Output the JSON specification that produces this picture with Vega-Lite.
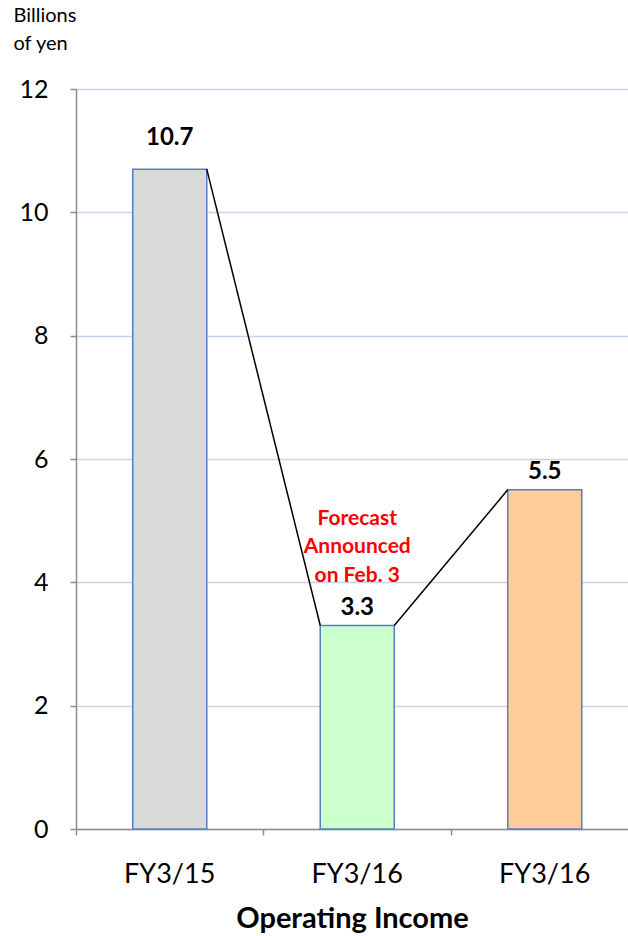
{
  "$schema": "https://vega.github.io/schema/vega-lite/v6.json",
  "width": 552,
  "height": 740,
  "autosize": {"type": "none"},
  "padding": {"left": 76, "top": 89, "right": 0, "bottom": 107},
  "background": "white",
  "config": {"font": "Lato", "view": {"stroke": null}},
  "datasets": {
    "bars": [
      {"key": "A", "label": "FY3/15", "value": 10.7},
      {"key": "B", "label": "FY3/16", "value": 3.3},
      {"key": "C", "label": "FY3/16", "value": 5.5}
    ],
    "links": [
      {"from": "A", "to": "B", "v1": 10.7, "v2": 3.3},
      {"from": "B", "to": "C", "v1": 3.3, "v2": 5.5}
    ],
    "notes": [
      {"key": "B", "value": 3.3, "note": "Forecast\nAnnounced\non Feb. 3"}
    ]
  },
  "layer": [
    {
      "data": {"name": "bars"},
      "mark": {"type": "bar", "width": {"band": 0.395}, "stroke": "#4f81bd", "strokeWidth": 1.5},
      "encoding": {
        "x": {
          "field": "key", "type": "nominal", "sort": null,
          "scale": {"range": [0, 562.5], "paddingInner": 0, "paddingOuter": 0},
          "axis": {
            "title": "Operating Income",
            "labelExpr": "datum.value == 'A' ? 'FY3/15' : 'FY3/16'",
            "labelAngle": 0, "labelFont": "Lato", "labelFontSize": 27, "labelColor": "#000000",
            "labelBaseline": "alphabetic", "labelPadding": 47,
            "tickSize": 6, "tickColor": "#8c8c8c", "tickWidth": 1.5,
            "domainColor": "#8c8c8c", "domainWidth": 1.5,
            "bandPosition": 0, "grid": false,
            "titleFont": "Lato", "titleFontSize": 29, "titleFontWeight": "bold", "titleColor": "#000000",
            "titleX": 276, "titleY": 98, "titleBaseline": "alphabetic", "titleAlign": "center"
          }
        },
        "y": {
          "field": "value", "type": "quantitative",
          "scale": {"domain": [0, 12], "nice": false},
          "axis": {
            "values": [0, 2, 4, 6, 8, 10, 12], "format": "d",
            "title": ["Billions", "of yen"],
            "titleAngle": 0, "titleX": -63, "titleY": -84, "titleAlign": "left", "titleBaseline": "top",
            "titleFont": "Lato", "titleFontSize": 20, "titleFontWeight": "normal", "titleLineHeight": 28, "titleColor": "#000000",
            "labelFont": "Lato", "labelFontSize": 25, "labelColor": "#000000", "labelPadding": 22,
            "tickSize": 6, "tickColor": "#8c8c8c", "tickWidth": 1.5,
            "domainColor": "#8c8c8c", "domainWidth": 1.5,
            "grid": true, "gridColor": "#c5d4ea", "gridWidth": 1.5
          }
        },
        "color": {
          "field": "key", "type": "nominal",
          "scale": {"domain": ["A", "B", "C"], "range": ["#d9d9d9", "#ccffcc", "#ffcc99"]},
          "legend": null
        }
      }
    },
    {
      "data": {"name": "links"},
      "mark": {"type": "rule", "color": "#000000", "strokeWidth": 1.5, "xOffset": 37, "x2Offset": -37},
      "encoding": {
        "x": {"field": "from", "type": "nominal", "sort": null},
        "x2": {"field": "to"},
        "y": {"field": "v1", "type": "quantitative"},
        "y2": {"field": "v2"}
      }
    },
    {
      "data": {"name": "bars"},
      "transform": [{"filter": "datum.key != 'A'"}],
      "mark": {"type": "text", "font": "Lato", "fontSize": 24, "fontWeight": "bold", "color": "#000000", "baseline": "middle", "dy": -18},
      "encoding": {
        "x": {"field": "key", "type": "nominal", "sort": null},
        "y": {"field": "value", "type": "quantitative"},
        "text": {"field": "value", "type": "quantitative", "format": ".1f"}
      }
    },
    {
      "data": {"name": "bars"},
      "transform": [{"filter": "datum.key == 'A'"}],
      "mark": {"type": "text", "font": "Lato", "fontSize": 24, "fontWeight": "bold", "color": "#000000", "baseline": "middle", "dy": -31},
      "encoding": {
        "x": {"field": "key", "type": "nominal", "sort": null},
        "y": {"field": "value", "type": "quantitative"},
        "text": {"field": "value", "type": "quantitative", "format": ".1f"}
      }
    },
    {
      "data": {"name": "notes"},
      "mark": {"type": "text", "font": "Lato", "fontSize": 21, "fontWeight": "bold", "color": "#ff0000", "baseline": "middle", "lineBreak": "\n", "lineHeight": 28.5, "dy": -107},
      "encoding": {
        "x": {"field": "key", "type": "nominal", "sort": null},
        "y": {"field": "value", "type": "quantitative"},
        "text": {"field": "note", "type": "nominal"}
      }
    }
  ]
}
